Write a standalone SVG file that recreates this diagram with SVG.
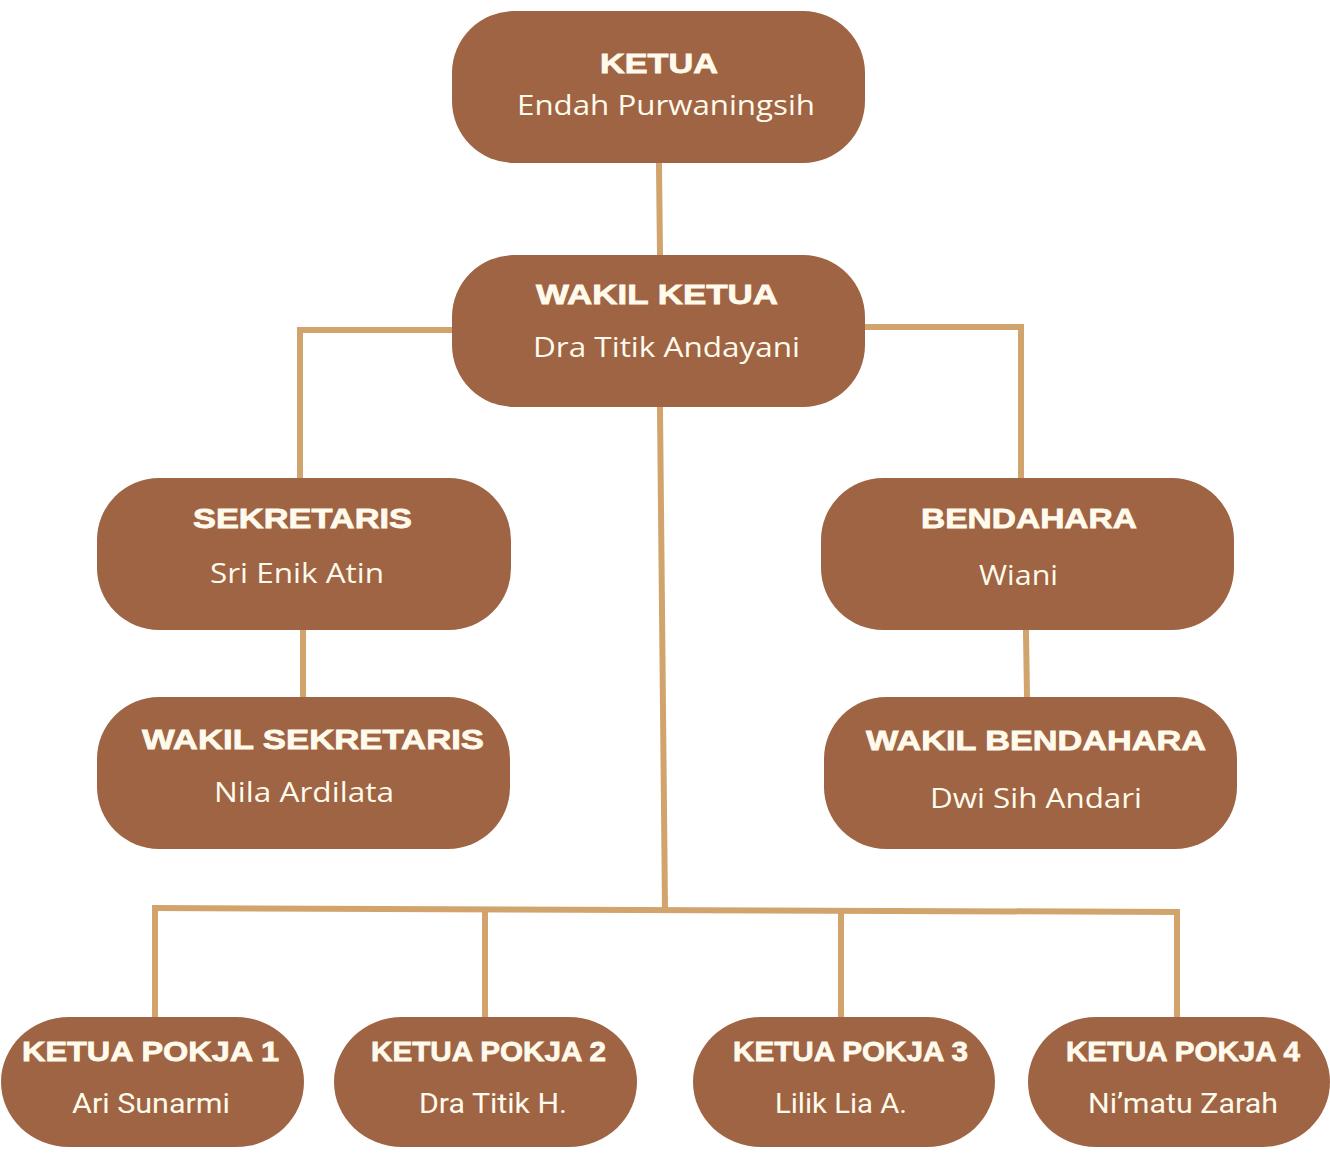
<svg xmlns="http://www.w3.org/2000/svg" width="1330" height="1153" viewBox="0 0 1330 1153">
<style>
.box{fill:#9e6444}
.ln{stroke:#d1a46e;stroke-width:6;fill:none;stroke-linecap:square}
.t{font-family:"Liberation Sans",Arial,sans-serif;font-weight:900;font-size:28px;fill:#fffaeb;stroke:#fffaeb;stroke-width:0.8;text-anchor:start}
.n{font-family:"Open Sans","Noto Sans",sans-serif;font-size:28px;fill:#fffaeb;text-anchor:start}
.c{font-family:"Roboto","Open Sans",sans-serif;font-size:28px;fill:#fffaeb;text-anchor:start}
</style>
<rect width="1330" height="1153" fill="#ffffff"/>
<g id="connectors">
<line class="ln" x1="659" y1="166" x2="660" y2="254"/>
<polyline class="ln" points="452,330 300,330 300,477"/>
<polyline class="ln" points="865,327 1021,327 1021,477"/>
<line class="ln" x1="660" y1="410" x2="665" y2="908"/>
<line class="ln" x1="155" y1="908" x2="1177" y2="912"/>
<line class="ln" x1="155" y1="908" x2="155" y2="1016"/>
<line class="ln" x1="485" y1="910" x2="485" y2="1016"/>
<line class="ln" x1="841" y1="911" x2="841" y2="1016"/>
<line class="ln" x1="1177" y1="912" x2="1177" y2="1016"/>
<line class="ln" x1="303" y1="633" x2="303" y2="696"/>
<line class="ln" x1="1026" y1="633" x2="1027" y2="696"/>
</g>
<g id="ketua">
<rect class="box" x="452" y="11" width="413" height="152" rx="62" ry="62"/>
<text class="t" x="600" y="73" textLength="118" lengthAdjust="spacingAndGlyphs">KETUA</text>
<text class="n" x="517" y="115" textLength="298" lengthAdjust="spacingAndGlyphs">Endah Purwaningsih</text>
</g>
<g id="wakil-ketua">
<rect class="box" x="452" y="255" width="413" height="152" rx="62" ry="62"/>
<text class="t" x="536" y="304" textLength="242" lengthAdjust="spacingAndGlyphs">WAKIL KETUA</text>
<text class="n" x="533" y="357" textLength="267" lengthAdjust="spacingAndGlyphs">Dra Titik Andayani</text>
</g>
<g id="sekretaris">
<rect class="box" x="97" y="478" width="414" height="152" rx="62" ry="62"/>
<text class="t" x="193" y="528" textLength="219" lengthAdjust="spacingAndGlyphs">SEKRETARIS</text>
<text class="n" x="210" y="583" textLength="174" lengthAdjust="spacingAndGlyphs">Sri Enik Atin</text>
</g>
<g id="bendahara">
<rect class="box" x="821" y="478" width="413" height="152" rx="62" ry="62"/>
<text class="t" x="921" y="528" textLength="216" lengthAdjust="spacingAndGlyphs">BENDAHARA</text>
<text class="n" x="979" y="585" textLength="79" lengthAdjust="spacingAndGlyphs">Wiani</text>
</g>
<g id="wakil-sekretaris">
<rect class="box" x="97" y="697" width="413" height="152" rx="62" ry="62"/>
<text class="t" x="142" y="749" textLength="342" lengthAdjust="spacingAndGlyphs">WAKIL SEKRETARIS</text>
<text class="n" x="214" y="802" textLength="180" lengthAdjust="spacingAndGlyphs">Nila Ardilata</text>
</g>
<g id="wakil-bendahara">
<rect class="box" x="824" y="697" width="413" height="152" rx="62" ry="62"/>
<text class="t" x="866" y="750" textLength="340" lengthAdjust="spacingAndGlyphs">WAKIL BENDAHARA</text>
<text class="n" x="930" y="808" textLength="212" lengthAdjust="spacingAndGlyphs">Dwi Sih Andari</text>
</g>
<g id="pokja-1">
<rect class="box" x="1" y="1017" width="303" height="130" rx="68" ry="65"/>
<text class="t" x="22" y="1061" textLength="257" lengthAdjust="spacingAndGlyphs">KETUA POKJA 1</text>
<text class="c" x="72" y="1113" textLength="158" lengthAdjust="spacingAndGlyphs">Ari Sunarmi</text>
</g>
<g id="pokja-2">
<rect class="box" x="334" y="1017" width="303" height="130" rx="68" ry="65"/>
<text class="t" x="371" y="1061" textLength="235" lengthAdjust="spacingAndGlyphs">KETUA POKJA 2</text>
<text class="c" x="419" y="1113" textLength="148" lengthAdjust="spacingAndGlyphs">Dra Titik H.</text>
</g>
<g id="pokja-3">
<rect class="box" x="693" y="1017" width="302" height="130" rx="68" ry="65"/>
<text class="t" x="733" y="1061" textLength="235" lengthAdjust="spacingAndGlyphs">KETUA POKJA 3</text>
<text class="c" x="775" y="1113" textLength="132" lengthAdjust="spacingAndGlyphs">Lilik Lia A.</text>
</g>
<g id="pokja-4">
<rect class="box" x="1028" y="1017" width="302" height="130" rx="68" ry="65"/>
<text class="t" x="1066" y="1061" textLength="234" lengthAdjust="spacingAndGlyphs">KETUA POKJA 4</text>
<text class="c" x="1088" y="1113" textLength="190" lengthAdjust="spacingAndGlyphs">Ni’matu Zarah</text>
</g>
</svg>
